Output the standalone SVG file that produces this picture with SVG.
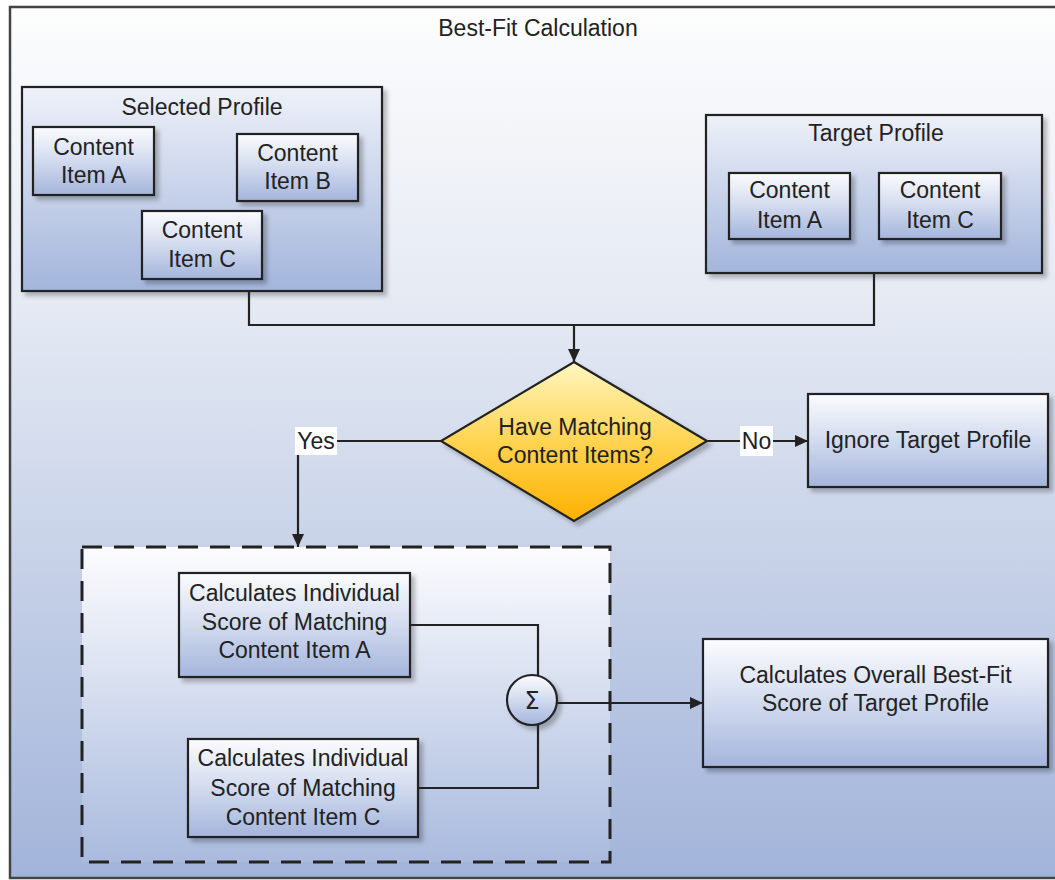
<svg xmlns="http://www.w3.org/2000/svg" width="1055" height="880" viewBox="0 0 1055 880">
<style>
text{font-family:"Liberation Sans",Arial,sans-serif;font-size:23px;fill:#222;text-anchor:middle}
.box{stroke:#222;stroke-width:2.2;fill:url(#gBox)}
.prof{stroke:#222;stroke-width:2.2;fill:url(#gProf)}
.conn{fill:none;stroke:#222;stroke-width:2.2}
.lbl{fill:#fff}
</style>
<defs>
<linearGradient id="gBg" x1="0" y1="0" x2="0" y2="1">
<stop offset="0" stop-color="#fdfdfd"/><stop offset="0.35" stop-color="#e4e9f3"/><stop offset="1" stop-color="#a2b4da"/>
</linearGradient>
<linearGradient id="gBox" x1="0" y1="0" x2="0" y2="1">
<stop offset="0" stop-color="#fbfcfe"/><stop offset="0.45" stop-color="#d6def0"/><stop offset="1" stop-color="#a4b5dc"/>
</linearGradient>
<linearGradient id="gProf" x1="0" y1="0" x2="0" y2="1">
<stop offset="0" stop-color="#eef1f8"/><stop offset="1" stop-color="#a3b5dc"/>
</linearGradient>
<linearGradient id="gDash" x1="0" y1="0" x2="0" y2="1">
<stop offset="0" stop-color="#fcfcfe"/><stop offset="1" stop-color="#a9badd"/>
</linearGradient>
<linearGradient id="gDia" x1="0" y1="0" x2="0" y2="1">
<stop offset="0" stop-color="#fff6c0"/><stop offset="0.5" stop-color="#ffd451"/><stop offset="1" stop-color="#ffb000"/>
</linearGradient>
<filter id="sh" x="-10%" y="-10%" width="130%" height="130%">
<feDropShadow dx="4" dy="4" stdDeviation="2" flood-color="#000" flood-opacity="0.25"/>
</filter>
<marker id="arr" markerUnits="userSpaceOnUse" markerWidth="14" markerHeight="12" refX="13" refY="6" orient="auto">
<path d="M0,0 L13,6 L0,12 z" fill="#222"/>
</marker>
</defs>

<g id="frame">
<rect x="10" y="7" width="1070" height="871" fill="url(#gBg)" stroke="#444" stroke-width="2.5"/>
<text x="538" y="36">Best-Fit Calculation</text>
</g>

<g id="selected-profile">
<rect class="prof" x="22" y="87" width="360" height="204" filter="url(#sh)"/>
<text x="202" y="115">Selected Profile</text>
</g>
<g id="sel-item-a">
<rect class="box" x="33" y="127" width="121" height="68" filter="url(#sh)"/>
<text x="93.5" y="155">Content</text><text x="93.5" y="183">Item A</text>
</g>
<g id="sel-item-b">
<rect class="box" x="237" y="134" width="121" height="67" filter="url(#sh)"/>
<text x="297.5" y="161">Content</text><text x="297.5" y="189">Item B</text>
</g>
<g id="sel-item-c">
<rect class="box" x="142" y="211" width="120" height="68" filter="url(#sh)"/>
<text x="202" y="238">Content</text><text x="202" y="267">Item C</text>
</g>

<g id="target-profile">
<rect class="prof" x="706" y="115" width="336" height="158" filter="url(#sh)"/>
<text x="876" y="141">Target Profile</text>
</g>
<g id="tgt-item-a">
<rect class="box" x="729" y="173" width="121" height="66" filter="url(#sh)"/>
<text x="789.5" y="198">Content</text><text x="789.5" y="228">Item A</text>
</g>
<g id="tgt-item-c">
<rect class="box" x="879" y="173" width="122" height="66" filter="url(#sh)"/>
<text x="940" y="198">Content</text><text x="940" y="228">Item C</text>
</g>

<g id="decision">
<polygon points="574,362 707,441 574,521 441,441" fill="url(#gDia)" stroke="#222" stroke-width="2.2" filter="url(#sh)"/>
<text x="575" y="435">Have Matching</text><text x="575" y="463">Content Items?</text>
</g>

<g id="ignore">
<rect class="box" x="808" y="394" width="240" height="93" filter="url(#sh)"/>
<text x="928" y="448">Ignore Target Profile</text>
</g>

<g id="group-dashed">
<rect x="82" y="547" width="528" height="315" fill="url(#gDash)" stroke="#222" stroke-width="3" stroke-dasharray="20 12"/>
</g>
<g id="calc-a">
<rect class="box" x="179" y="573" width="231" height="104" filter="url(#sh)"/>
<text x="294.5" y="601">Calculates Individual</text><text x="294.5" y="630">Score of Matching</text><text x="294.5" y="658">Content Item A</text>
</g>
<g id="calc-c">
<rect class="box" x="188" y="739" width="230" height="98" filter="url(#sh)"/>
<text x="303" y="766">Calculates Individual</text><text x="303" y="796">Score of Matching</text><text x="303" y="825">Content Item C</text>
</g>
<g id="sum">
<circle cx="532" cy="700" r="25" fill="url(#gBox)" stroke="#222" stroke-width="2.2" filter="url(#sh)"/>
<text x="532" y="709" style="font-family:'DejaVu Sans',sans-serif;font-size:24px">Σ</text>
</g>
<g id="overall">
<rect class="box" x="703" y="639" width="345" height="128" filter="url(#sh)"/>
<text x="875.5" y="683">Calculates Overall Best-Fit</text><text x="875.5" y="711">Score of Target Profile</text>
</g>

<g id="connectors">
<polyline class="conn" points="249,291 249,325 874,325 874,273"/>
<line class="conn" x1="574" y1="325" x2="574" y2="362" marker-end="url(#arr)"/>
<polyline class="conn" points="441,441 298,441 298,547" marker-end="url(#arr)"/>
<line class="conn" x1="707" y1="441" x2="808" y2="441" marker-end="url(#arr)"/>
<polyline class="conn" points="410,625 538,625 538,676"/>
<polyline class="conn" points="418,788 538,788 538,724"/>
<line class="conn" x1="557" y1="703" x2="703" y2="703" marker-end="url(#arr)"/>
<rect class="lbl" x="295" y="427" width="42" height="28"/>
<text x="316" y="449">Yes</text>
<rect class="lbl" x="740" y="426" width="33" height="30"/>
<text x="756.5" y="449">No</text>
</g>
</svg>
